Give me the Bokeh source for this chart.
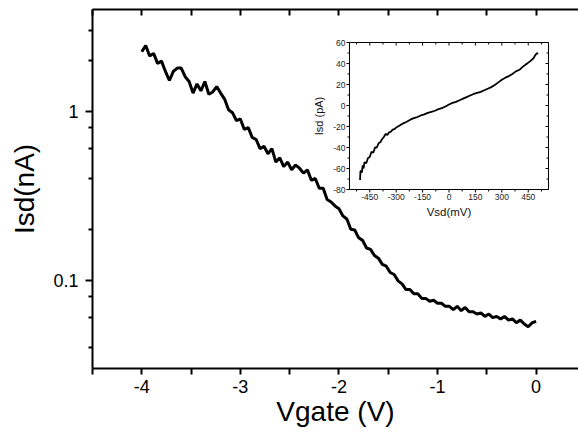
import math
from bokeh.plotting import figure
from bokeh.models import (FixedTicker, LinearAxis, Range1d, LinearScale,
                          CustomJSTickFormatter)
from bokeh.core.properties import value
from bokeh.embed import file_html
from bokeh.resources import INLINE

# ---- main curve: Isd (nA) vs Vgate (V) ----
vgate = [-4.00, -3.96, -3.92, -3.88, -3.84, -3.80, -3.76, -3.72, -3.68, -3.64,
         -3.60, -3.56, -3.52, -3.48, -3.44, -3.40, -3.36, -3.32, -3.28, -3.24,
         -3.20, -3.16, -3.12, -3.08, -3.04, -3.00, -2.96, -2.92, -2.88, -2.84,
         -2.80, -2.76, -2.72, -2.68, -2.64, -2.60, -2.56, -2.52, -2.48, -2.44,
         -2.40, -2.36, -2.32, -2.28, -2.24, -2.20, -2.16, -2.12, -2.08, -2.04,
         -2.00, -1.96, -1.92, -1.88, -1.84, -1.80, -1.76, -1.72, -1.68, -1.64,
         -1.60, -1.56, -1.52, -1.48, -1.44, -1.40, -1.36, -1.32, -1.28, -1.24,
         -1.20, -1.16, -1.12, -1.08, -1.04, -1.00, -0.96, -0.92, -0.88, -0.84,
         -0.80, -0.76, -0.72, -0.68, -0.64, -0.60, -0.56, -0.52, -0.48, -0.44,
         -0.40, -0.36, -0.32, -0.28, -0.24, -0.20, -0.16, -0.12, -0.08, -0.04,
         0.00]
isd_na = [2.25, 2.45, 2.12, 2.20, 1.92, 1.98, 1.72, 1.52, 1.72, 1.80,
          1.80, 1.60, 1.50, 1.28, 1.45, 1.32, 1.50, 1.26, 1.30, 1.40,
          1.28, 1.18, 1.02, 0.98, 0.88, 0.90, 0.78, 0.80, 0.70, 0.68,
          0.60, 0.62, 0.56, 0.60, 0.50, 0.53, 0.47, 0.50, 0.45, 0.48,
          0.46, 0.43, 0.45, 0.39, 0.40, 0.35, 0.35, 0.30, 0.29, 0.275,
          0.265, 0.24, 0.23, 0.20, 0.198, 0.178, 0.172, 0.155, 0.152, 0.14,
          0.135, 0.124, 0.121, 0.111, 0.108, 0.099, 0.095, 0.088, 0.088, 0.083,
          0.083, 0.078, 0.078, 0.075, 0.076, 0.073, 0.073, 0.070, 0.070, 0.067,
          0.070, 0.066, 0.069, 0.065, 0.065, 0.063, 0.064, 0.061, 0.063, 0.060,
          0.061, 0.059, 0.061, 0.058, 0.059, 0.056, 0.058, 0.055, 0.053, 0.056,
          0.057]

x_ticks = [-4, -3, -2, -1, 0]
x_minor = [-4.5, -3.5, -2.5, -1.5, -0.5]
y_ticks = [0.1, 1]
y_minor = [0.04, 0.06, 0.08, 0.2, 0.4, 0.6, 0.8, 2, 3]
y_labels = {0.1: "0.1", 1: "1"}
x_labels = {-4: "-4", -3: "-3", -2: "-2", -1: "-1", 0: "0"}

# ---- inset: Isd (pA) vs Vsd (mV) ----
vsd = [-505, -503, -500, -495, -490, -485, -480, -470, -460, -450, -440, -430,
       -420, -410, -400, -390, -380, -370, -360, -350, -340, -330, -320, -310,
       -300, -280, -260, -240, -220, -200, -180, -160, -140, -120, -100, -80,
       -60, -40, -20, 0, 20, 40, 60, 80, 100, 120, 140, 160, 180, 200, 220,
       240, 260, 280, 300, 320, 340, 360, 380, 400, 420, 440, 460, 480, 490,
       500, 505]
isd_pa = [-71, -63, -62, -64, -57, -60, -54, -55, -50, -49, -44, -45,
          -40, -40, -36, -35, -32, -30, -27, -28, -25.5, -25, -23, -22.5,
          -21, -19, -17, -15.5, -13.5, -12, -11, -9.5, -8.5, -7, -6, -5,
          -3.5, -2.5, -1, 1, 2.5, 3.5, 5, 6.5, 8, 9.5, 11, 12, 13, 14.5, 16,
          17.5, 19.5, 22, 24.5, 26.5, 28, 30, 32.5, 34, 37, 39.5, 42, 45, 48,
          50, 49]
ix_range = (-565, 565)
iy_range = (-80, 60)
ix_ticks = [-450, -300, -150, 0, 150, 300, 450]
ix_minor = [-525, -375, -225, -75, 75, 225, 375, 525]
iy_ticks = [-80, -60, -40, -20, 0, 20, 40, 60]
iy_minor = [-70, -50, -30, -10, 10, 30, 50]

FONT = "Liberation Sans"

# ---- layout constants (pixels; the page template has no body margin) ----
W, H = 578, 437
BL, BT, BR, BB = 92, 9, 0, 69
FW, FH = W - BL - BR, H - BT - BB          # main frame size
IN_L, IN_R, IN_T, IN_B = 257, 30, 33, 179  # inset frame offsets inside main frame
IW, IH = FW - IN_L - IN_R, FH - IN_T - IN_B

ix_lo, ix_hi = ix_range
iy_lo, iy_hi = iy_range
dx = (ix_hi - ix_lo) / IW   # data per pixel in inset
dy = (iy_hi - iy_lo) / IH

p = figure(width=W, height=H, x_range=(-4.5, 0.43), y_range=(0.03, 4.0),
           y_axis_type="log", output_backend="svg", toolbar_location=None,
           min_border_left=BL, min_border_top=BT, min_border_right=BR,
           min_border_bottom=BB)
p.extra_x_ranges = {"ins": Range1d(ix_lo - IN_L * dx, ix_hi + IN_R * dx)}
p.extra_y_ranges = {"ins": Range1d(iy_lo - IN_B * dy, iy_hi + IN_T * dy)}
p.extra_x_scales = {"ins": LinearScale()}
p.extra_y_scales = {"ins": LinearScale()}
p.grid.visible = False
p.outline_line_color = None

p.line(vgate, isd_na, line_color="black", line_width=3)

xa = p.xaxis[0]
xa.ticker = FixedTicker(ticks=x_ticks, minor_ticks=x_minor)
xa.major_label_overrides = x_labels
xa.axis_label = "Vgate (V)"
ya = p.yaxis[0]
ya.ticker = FixedTicker(ticks=y_ticks, minor_ticks=y_minor)
ya.major_label_overrides = y_labels
ya.axis_label = "Isd(nA)"
for ax in (xa, ya):
    ax.axis_line_width = 2
    ax.axis_line_color = "black"
    ax.major_tick_line_width = 2
    ax.minor_tick_line_width = 2
    ax.major_tick_line_color = "black"
    ax.minor_tick_line_color = "black"
    ax.major_label_text_font = FONT
    ax.major_label_text_font_size = "18px"
    ax.major_label_text_color = "black"
    ax.axis_label_text_font = FONT
    ax.axis_label_text_font_size = "28px"
    ax.axis_label_text_font_style = "normal"
    ax.axis_label_text_color = "black"
xa.major_tick_in = 0
xa.minor_tick_in = 0
xa.major_tick_out = 6
xa.minor_tick_out = 6
xa.major_label_standoff = 5
xa.axis_label_standoff = 0
ya.major_tick_in = 0
ya.minor_tick_in = 0
ya.major_tick_out = 7
ya.minor_tick_out = 4
ya.major_label_standoff = 7
ya.axis_label_standoff = 10

top = LinearAxis(ticker=FixedTicker(ticks=x_ticks, minor_ticks=x_minor),
                 formatter=CustomJSTickFormatter(code="return ''"),
                 axis_line_width=2, axis_line_color="black",
                 major_tick_line_width=2, minor_tick_line_width=2,
                 major_tick_in=6, major_tick_out=0,
                 minor_tick_in=6, minor_tick_out=0, major_label_standoff=0)
p.add_layout(top, "above")

# ---- inset drawn on the extra ranges ----
R = dict(x_range_name="ins", y_range_name="ins")
p.quad(left=[ix_lo], right=[ix_hi], bottom=[iy_lo], top=[iy_hi],
       fill_color="white", fill_alpha=0, line_color="black", line_width=1, **R)
p.line(vsd, isd_pa, line_color="black", line_width=1.8, **R)

def ticks_h(vals, length_px):
    n = len(vals)
    p.segment(x0=vals, y0=[iy_lo] * n, x1=vals, y1=[iy_lo - length_px * dy] * n,
              line_color="black", line_width=1, **R)
    p.segment(x0=vals, y0=[iy_hi] * n, x1=vals, y1=[iy_hi - length_px * dy] * n,
              line_color="black", line_width=1, **R)

def ticks_v(vals, length_px):
    n = len(vals)
    p.segment(x0=[ix_lo] * n, y0=vals, x1=[ix_lo - length_px * dx] * n, y1=vals,
              line_color="black", line_width=1, **R)
    p.segment(x0=[ix_hi] * n, y0=vals, x1=[ix_hi - length_px * dx] * n, y1=vals,
              line_color="black", line_width=1, **R)

ticks_h(ix_ticks, 3)
ticks_h(ix_minor, 2)
ticks_v(iy_ticks, 3)
ticks_v(iy_minor, 2)

p.text(x=ix_ticks, y=[iy_lo] * len(ix_ticks), text=[str(t) for t in ix_ticks],
       text_align="center", text_baseline="top", y_offset=4,
       text_font=value(FONT), text_font_size=value("8.5px"),
       text_color="#222222", **R)
p.text(x=[ix_lo] * len(iy_ticks), y=iy_ticks, text=[str(t) for t in iy_ticks],
       text_align="right", text_baseline="middle", x_offset=-4,
       text_font=value(FONT), text_font_size=value("8.5px"),
       text_color="#222222", **R)
p.text(x=[(ix_lo + ix_hi) / 2], y=[iy_lo], text=["Vsd(mV)"],
       text_align="center", text_baseline="top", y_offset=16,
       text_font=value(FONT), text_font_size=value("11.5px"),
       text_color="#111111", **R)
p.text(x=[ix_lo], y=[(iy_lo + iy_hi) / 2], text=["Isd (pA)"], angle=math.pi / 2,
       text_align="center", text_baseline="middle", x_offset=-31,
       text_font=value(FONT), text_font_size=value("11px"),
       text_color="#111111", **R)

open("out.html", "w").write(file_html(p, INLINE))
